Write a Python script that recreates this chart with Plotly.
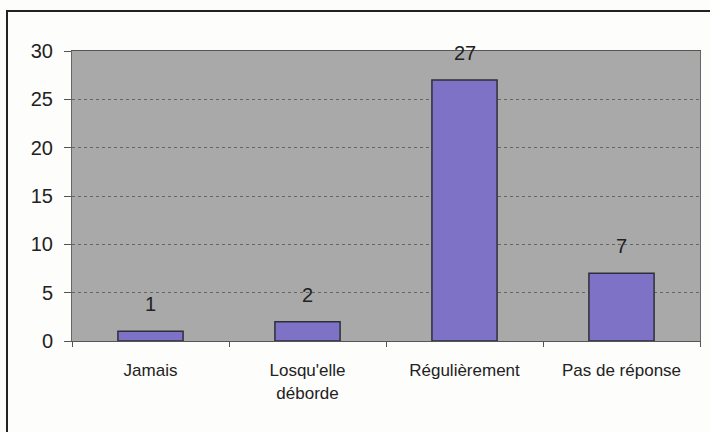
import plotly.graph_objects as go

categories = ["Jamais", "Losqu'elle<br>déborde", "Régulièrement", "Pas de réponse"]
values = [1, 2, 27, 7]
y_ticks = [0, 5, 10, 15, 20, 25, 30]

fig = go.Figure()
fig.add_trace(go.Bar(
    x=categories, y=values,
    marker=dict(color="#7d72c6", line=dict(color="#2e2e3a", width=1.5)),
    hoverinfo="skip",
))

for c, v in zip(categories, values):
    fig.add_annotation(x=c, y=v, text=str(v), showarrow=False, yanchor="bottom",
                       yshift=14, font=dict(family="Liberation Sans, Arial", size=20, color="#222"))

fig.update_layout(
    width=710, height=432,
    margin=dict(l=72, r=10, t=51, b=91, autoexpand=False),
    paper_bgcolor="#fdfdfb",
    plot_bgcolor="#a9a9a9",
    bargap=0.585,
    showlegend=False,
    font=dict(family="Liberation Sans, Arial", color="#222"),
)
fig.update_yaxes(
    range=[0, 30], tickvals=y_ticks, ticks="outside", ticklen=7, tickcolor="#555",
    tickfont=dict(size=20, color="#222"), ticklabelstandoff=7,
    showgrid=True, gridcolor="#666", griddash="dot", gridwidth=1,
    showline=True, linecolor="#666", mirror=True, zeroline=False,
)
fig.update_xaxes(
    tickson="boundaries", ticks="outside", ticklen=5, tickcolor="#555",
    tickfont=dict(size=17, color="#222"), ticklabelstandoff=14,
    showline=True, linecolor="#555", mirror=True, showgrid=False,
)
# outer chart frame
fig.add_shape(type="rect", xref="paper", yref="paper",
              x0=(7 - 72) / 628, x1=(715 - 72) / 628,
              y0=(341 - 445) / 290, y1=(341 - 11) / 290,
              line=dict(color="#222", width=2), layer="below")

fig.write_html("out.html", config={"displayModeBar": False},
               post_script="document.body.style.margin='0';document.body.style.overflow='hidden';")
